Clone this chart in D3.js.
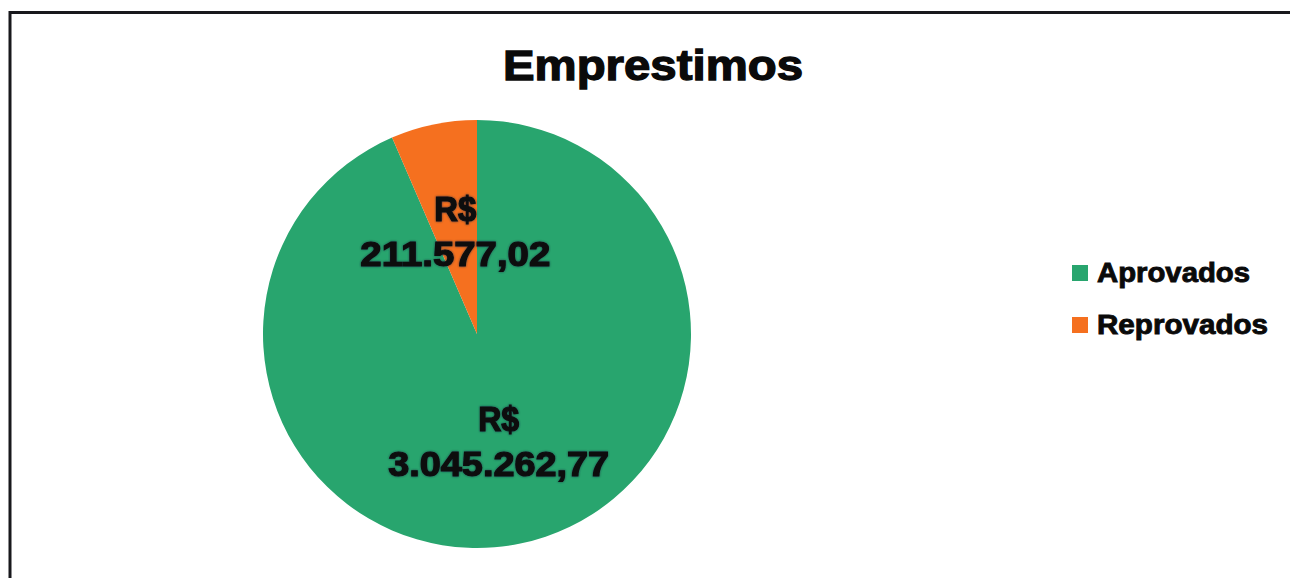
<!DOCTYPE html>
<html>
<head>
<meta charset="utf-8">
<script src="https://cdn.jsdelivr.net/npm/d3@7/dist/d3.min.js"></script>
<style>
  html, body { margin: 0; padding: 0; background: #fff; }
  svg { display: block; }
  text { font-family: "Liberation Sans", Arial, sans-serif; font-weight: bold; }
</style>
</head>
<body>
<svg id="chart" width="1290" height="578"></svg>
<script>
const title = "Emprestimos";
const categories = ["Aprovados", "Reprovados"];
const values = [3045262.77, 211577.02];
const valueLabels = ["3.045.262,77", "211.577,02"];
const currency = "R$";
const colors = ["#28a56e", "#f5701f"];

const W = 1290, H = 578;
const svg = d3.select("#chart");

// frame
svg.append("rect")
  .attr("x", 10).attr("y", 12.5)
  .attr("width", 1300).attr("height", 600)
  .attr("fill", "#fff").attr("stroke", "#18181c").attr("stroke-width", 3);

// title
svg.append("text")
  .attr("x", 653).attr("y", 80)
  .attr("text-anchor", "middle")
  .attr("font-size", 42)
  .attr("textLength", 300).attr("lengthAdjust", "spacingAndGlyphs")
  .attr("fill", "#0a0a0a").attr("stroke", "#0a0a0a").attr("stroke-width", 1.3)
  .text(title);

const cx = 477, cy = 334, R = 214;
const data = categories.map((c, i) => ({ cat: c, value: values[i], label: valueLabels[i], color: colors[i] }));

const pie = d3.pie().sort(null).value(d => d.value);
const arcs = pie(data);
const arc = d3.arc().innerRadius(0).outerRadius(R);
const labelArc = d3.arc().innerRadius(R * 0.5).outerRadius(R * 0.5);

const g = svg.append("g").attr("transform", `translate(${cx},${cy})`);
g.selectAll("path.slice")
  .data(arcs)
  .join("path")
  .attr("class", "slice")
  .attr("d", arc)
  .attr("fill", d => d.data.color);

// shadow filter for labels
const defs = svg.append("defs");
const f = defs.append("filter").attr("id", "glow").attr("x", "-10%").attr("y", "-20%").attr("width", "120%").attr("height", "140%");
f.append("feGaussianBlur").attr("in", "SourceAlpha").attr("stdDeviation", 1.1).attr("result", "b");
f.append("feFlood").attr("flood-color", "#1c2a3a").attr("flood-opacity", 0.8);
f.append("feComposite").attr("in2", "b").attr("operator", "in").attr("result", "s");
const m = f.append("feMerge");
m.append("feMergeNode").attr("in", "s");
m.append("feMergeNode").attr("in", "SourceGraphic");

const labelWidths = { "Aprovados": [41, 221], "Reprovados": [42, 190] };
const lab = g.selectAll("g.lab")
  .data(arcs)
  .join("g")
  .attr("class", "lab")
  .attr("transform", d => { const c = labelArc.centroid(d); return `translate(${c[0]},${c[1]})`; })
  .attr("filter", "url(#glow)");
lab.append("text")
  .attr("y", -8)
  .attr("text-anchor", "middle")
  .attr("font-size", 35)
  .attr("fill", "#0b0b10").attr("stroke", "#0b0b10").attr("stroke-width", 1.2)
  .attr("textLength", d => labelWidths[d.data.cat][0]).attr("lengthAdjust", "spacingAndGlyphs")
  .text(currency);
lab.append("text")
  .attr("y", 37)
  .attr("text-anchor", "middle")
  .attr("font-size", 35)
  .attr("fill", "#0b0b10").attr("stroke", "#0b0b10").attr("stroke-width", 1.2)
  .attr("textLength", d => labelWidths[d.data.cat][1]).attr("lengthAdjust", "spacingAndGlyphs")
  .text(d => d.data.label);

// legend
const legendX = 1072, legendY = 265, legendStep = 52;
const lg = svg.selectAll("g.leg")
  .data(data)
  .join("g")
  .attr("class", "leg")
  .attr("transform", (d, i) => `translate(${legendX},${legendY + i * legendStep})`);
lg.append("rect").attr("width", 16).attr("height", 16).attr("fill", d => d.color);
lg.append("text")
  .attr("x", 25).attr("y", 17)
  .attr("font-size", 27)
  .attr("fill", "#0a0a0a").attr("stroke", "#0a0a0a").attr("stroke-width", 0.9)
  .attr("textLength", (d, i) => i === 0 ? 153 : 171).attr("lengthAdjust", "spacingAndGlyphs")
  .text(d => d.cat);
</script>
</body>
</html>
